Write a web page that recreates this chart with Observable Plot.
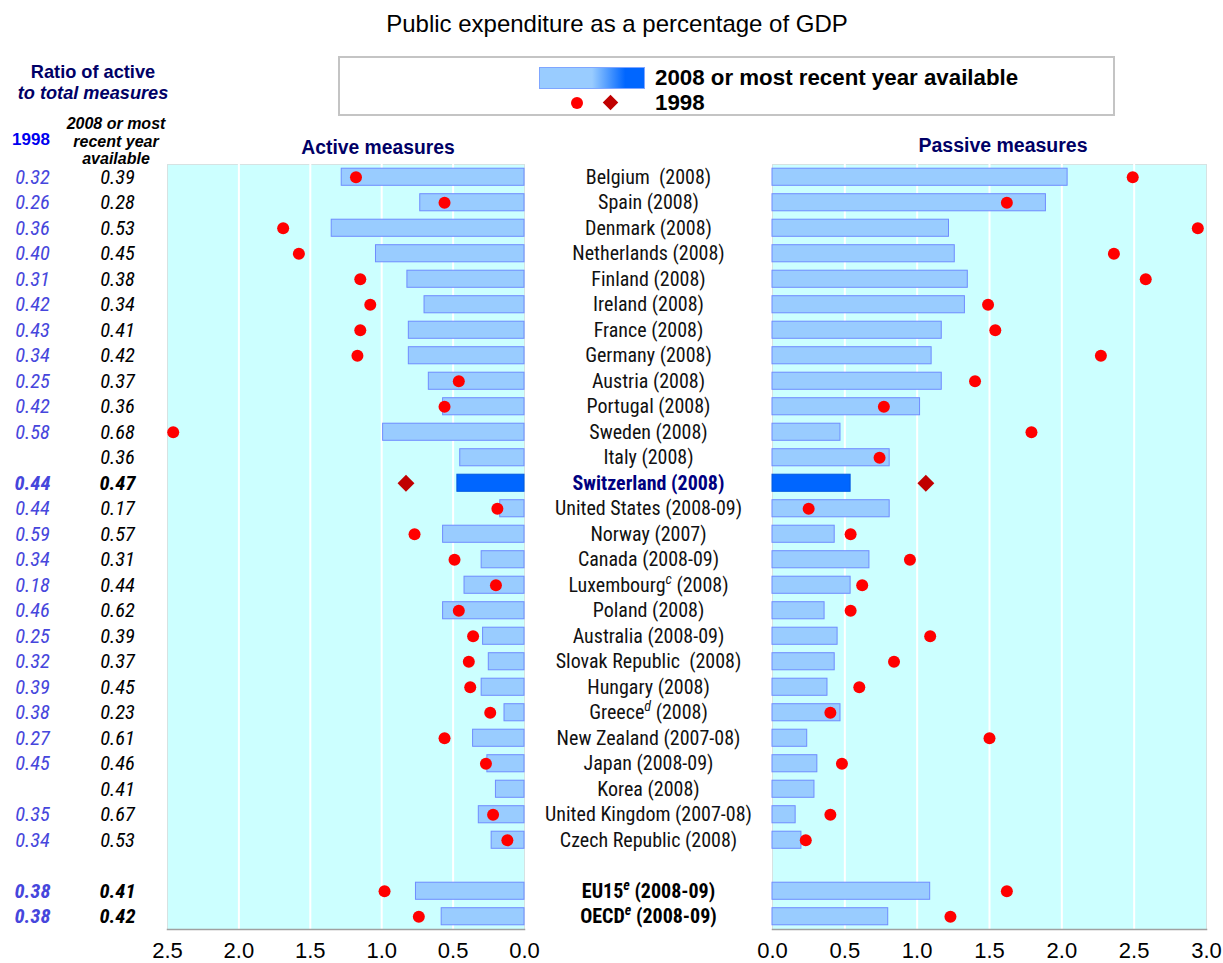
<!DOCTYPE html>
<html>
<head>
<meta charset="utf-8">
<script src="https://cdn.jsdelivr.net/npm/d3@7"></script>
<script src="https://cdn.jsdelivr.net/npm/@observablehq/plot@0.6"></script>
<style>
  html, body { margin: 0; padding: 0; background: #fff; }
  #wrap { position: relative; width: 1223px; height: 963px; overflow: hidden; font-family: "Liberation Sans", Arial, sans-serif; }
  #wrap svg { position: absolute; top: 0; background: transparent !important; }
  .lbl { position: absolute; transform: translate(-50%, -50%); white-space: nowrap; text-align: center; z-index: 5; }
  .lft { position: absolute; transform: translate(0, -50%); white-space: nowrap; z-index: 5; }
</style>
</head>
<body>
<div id="wrap"></div>
<script>
// ---- data ----
const labels = ["Belgium  (2008)","Spain (2008)","Denmark (2008)","Netherlands (2008)","Finland (2008)","Ireland (2008)","France (2008)","Germany (2008)","Austria (2008)","Portugal (2008)","Sweden (2008)","Italy (2008)","Switzerland (2008)","United States (2008-09)","Norway (2007)","Canada (2008-09)","Luxembourg^c (2008)","Poland (2008)","Australia (2008-09)","Slovak Republic  (2008)","Hungary (2008)","Greece^d (2008)","New Zealand (2007-08)","Japan (2008-09)","Korea (2008)","United Kingdom (2007-08)","Czech Republic (2008)","EU15^e (2008-09)","OECD^e (2008-09)"];
const active2008 = [1.28,0.73,1.35,1.04,0.82,0.70,0.81,0.81,0.67,0.57,0.99,0.45,0.47,0.17,0.57,0.30,0.42,0.57,0.29,0.25,0.30,0.14,0.36,0.26,0.20,0.32,0.23,0.76,0.58];
const active1998 = [1.18,0.56,1.69,1.58,1.15,1.08,1.15,1.17,0.46,0.56,2.46,null,0.83,0.19,0.77,0.49,0.20,0.46,0.36,0.39,0.38,0.24,0.56,0.27,null,0.22,0.12,0.98,0.74];
const passive2008 = [2.04,1.89,1.22,1.26,1.35,1.33,1.17,1.10,1.17,1.02,0.47,0.81,0.54,0.81,0.43,0.67,0.54,0.36,0.45,0.43,0.38,0.47,0.24,0.31,0.29,0.16,0.20,1.09,0.80];
const passive1998 = [2.49,1.62,2.94,2.36,2.58,1.49,1.54,2.27,1.40,0.77,1.79,0.74,1.06,0.25,0.54,0.95,0.62,0.54,1.09,0.84,0.60,0.40,1.50,0.48,null,0.40,0.23,1.62,1.23];
const ratio1998 = [0.32,0.26,0.36,0.40,0.31,0.42,0.43,0.34,0.25,0.42,0.58,null,0.44,0.44,0.59,0.34,0.18,0.46,0.25,0.32,0.39,0.38,0.27,0.45,null,0.35,0.34,0.38,0.38];
const ratio2008 = [0.39,0.28,0.53,0.45,0.38,0.34,0.41,0.42,0.37,0.36,0.68,0.36,0.47,0.17,0.57,0.31,0.44,0.62,0.39,0.37,0.45,0.23,0.61,0.46,0.41,0.67,0.53,0.41,0.42];
const highlight = "Switzerland (2008)";
const aggregates = ["EU15^e (2008-09)","OECD^e (2008-09)"];
const leftTicks = [0, 0.5, 1, 1.5, 2, 2.5];
const rightTicks = [0, 0.5, 1, 1.5, 2, 2.5, 3];

// ---- table ----
const rows = labels.map((label, i) => ({label, a08: active2008[i], a98: active1998[i], p08: passive2008[i], p98: passive1998[i], r98: ratio1998[i], r08: ratio2008[i]}));
const yDomain = [...labels.slice(0, 27), " ", ...labels.slice(27)];
const isHi = d => d.label === highlight;
const isAgg = d => aggregates.includes(d.label);
const plain = rows.filter(d => !isHi(d) && !isAgg(d));
const strong = rows.filter(d => isHi(d) || isAgg(d));

const NARROW = "'Liberation Sans Narrow', 'Arial Narrow', 'Roboto Condensed', 'Liberation Sans', Arial, sans-serif";
const BAR = "#99ccff", BAR_STROKE = "#6f8cff", HI = "#0066ff", DOT = "#ff0000", DIA = "#c00000";
const yOpt = {domain: yDomain, axis: null, paddingInner: 0.33, paddingOuter: 0.165, round: false};
const baseStyle = {fontFamily: "'Liberation Sans', Arial, sans-serif", fontSize: "22px", color: "#000", background: "transparent", overflow: "visible"};

function supers(svg) {
  d3.select(svg).selectAll("text").each(function () {
    const t = this.textContent;
    if (!t.includes("^")) return;
    const parts = t.split(/\^(\w)/);
    this.textContent = "";
    const sel = d3.select(this);
    let shift = false;
    parts.forEach((p, i) => {
      if (i % 2 === 1) {
        sel.append("tspan").attr("dy", -8).attr("font-size", "70%").attr("font-style", "italic").text(p);
        shift = true;
      } else if (p.length) {
        const ts = sel.append("tspan").text(p);
        if (shift) { ts.attr("dy", 8); shift = false; }
      }
    });
  });
}

// ---- left (active) panel ----
const left = Plot.plot({
  width: 524, height: 963,
  marginLeft: 167, marginRight: 0, marginTop: 164, marginBottom: 34,
  x: {domain: [0, 2.5], reverse: true, ticks: leftTicks, tickFormat: d => d.toFixed(1), tickSize: 0, tickPadding: 13, label: null},
  y: yOpt,
  style: baseStyle,
  marks: [
    Plot.frame({fill: "#ccffff", stroke: "#d6e2e2"}),
    Plot.ruleX(leftTicks.filter(t => t > 0 && t < 2.5), {stroke: "#ffffff", strokeWidth: 2}),
    Plot.frame({anchor: "bottom", stroke: "#a0a0a0", strokeWidth: 1.5}),
    Plot.barX(rows.filter(d => !isHi(d)), {x: "a08", y: "label", fill: BAR, stroke: BAR_STROKE, strokeWidth: 1}),
    Plot.barX(rows.filter(isHi), {x: "a08", y: "label", fill: HI, stroke: "#0058e0", strokeWidth: 1}),
    Plot.dot(rows.filter(d => d.a98 != null && !isHi(d)), {x: "a98", y: "label", r: 6, fill: DOT}),
    Plot.dot(rows.filter(isHi), {x: "a98", y: "label", r: 7.6, symbol: "diamond2", fill: DIA}),
    // ratio columns
    Plot.text(plain.filter(d => d.r98 != null), {y: "label", text: d => d.r98.toFixed(2), frameAnchor: "left", dx: -135, textAnchor: "middle", fill: "#4646dc", fontFamily: NARROW, fontStyle: "italic", fontSize: 20.5}),
    Plot.text(strong, {y: "label", text: d => d.r98.toFixed(2), frameAnchor: "left", dx: -135, textAnchor: "middle", fill: "#4646dc", fontFamily: NARROW, fontStyle: "italic", fontWeight: "bold", fontSize: 20.5}),
    Plot.text(plain, {y: "label", text: d => d.r08.toFixed(2), frameAnchor: "left", dx: -50, textAnchor: "middle", fill: "#000", fontFamily: NARROW, fontStyle: "italic", fontSize: 20.5}),
    Plot.text(strong, {y: "label", text: d => d.r08.toFixed(2), frameAnchor: "left", dx: -50, textAnchor: "middle", fill: "#000", fontFamily: NARROW, fontStyle: "italic", fontWeight: "bold", fontSize: 20.5})
  ]
});
left.style.left = "0px";

// ---- right (passive) panel ----
const right = Plot.plot({
  width: 699, height: 963,
  marginLeft: 248, marginRight: 17, marginTop: 164, marginBottom: 34,
  x: {domain: [0, 3], ticks: rightTicks, tickFormat: d => d.toFixed(1), tickSize: 0, tickPadding: 13, label: null},
  y: yOpt,
  style: baseStyle,
  marks: [
    Plot.frame({fill: "#ccffff", stroke: "#d6e2e2"}),
    Plot.ruleX(rightTicks.filter(t => t > 0 && t < 3), {stroke: "#ffffff", strokeWidth: 2}),
    Plot.frame({anchor: "bottom", stroke: "#a0a0a0", strokeWidth: 1.5}),
    Plot.barX(rows.filter(d => !isHi(d)), {x: "p08", y: "label", fill: BAR, stroke: BAR_STROKE, strokeWidth: 1}),
    Plot.barX(rows.filter(isHi), {x: "p08", y: "label", fill: HI, stroke: "#0058e0", strokeWidth: 1}),
    Plot.dot(rows.filter(d => d.p98 != null && !isHi(d)), {x: "p98", y: "label", r: 6, fill: DOT}),
    Plot.dot(rows.filter(isHi), {x: "p98", y: "label", r: 7.6, symbol: "diamond2", fill: DIA}),
    // country labels
    Plot.text(plain, {y: "label", text: "label", frameAnchor: "left", dx: -124, textAnchor: "middle", fill: "#111", fontFamily: NARROW, fontSize: 20}),
    Plot.text(rows.filter(isHi), {y: "label", text: "label", frameAnchor: "left", dx: -124, textAnchor: "middle", fill: "#000080", fontFamily: NARROW, fontWeight: "bold", fontSize: 20}),
    Plot.text(rows.filter(isAgg), {y: "label", text: "label", frameAnchor: "left", dx: -124, textAnchor: "middle", fill: "#000", fontFamily: NARROW, fontWeight: "bold", fontSize: 20})
  ]
});
right.style.left = "524px";
supers(right);

const wrap = document.getElementById("wrap");
wrap.appendChild(left);
wrap.appendChild(right);

// ---- titles, headers and legend (HTML) ----
const html = `
<div class="lbl" style="left:617px;top:24px;font-size:24px;color:#000;">Public expenditure as a percentage of GDP</div>
<div style="position:absolute;left:338px;top:56px;width:773px;height:56px;border:2px solid #c4c4c4;background:#fff;z-index:4;"></div>
<div style="position:absolute;left:539px;top:67px;width:104px;height:20px;border:1px solid #7fa6ff;background:linear-gradient(to right,#99ccff 0%,#99ccff 50%,#0066ff 82%,#0066ff 100%);z-index:5;"></div>
<div style="position:absolute;left:571px;top:97px;width:12px;height:12px;border-radius:50%;background:${DOT};z-index:5;"></div>
<div style="position:absolute;left:605px;top:97px;width:11px;height:11px;transform:rotate(45deg);background:${DIA};z-index:5;"></div>
<div class="lft" style="left:655px;top:78px;font-size:22.3px;font-weight:bold;">2008 or most recent year available</div>
<div class="lft" style="left:655px;top:103px;font-size:22.3px;font-weight:bold;">1998</div>
<div class="lbl" style="left:93px;top:72px;font-size:18.2px;font-weight:bold;color:#000066;">Ratio of active</div>
<div class="lbl" style="left:93px;top:93px;font-size:18.2px;font-weight:bold;font-style:italic;color:#000066;">to total measures</div>
<div class="lbl" style="left:31px;top:140px;font-size:17px;font-weight:bold;color:#0000ee;">1998</div>
<div class="lbl" style="left:116px;top:141px;font-size:16px;font-weight:bold;font-style:italic;line-height:17.5px;color:#000;">2008 or most<br>recent year<br>available</div>
<div class="lbl" style="left:378px;top:148px;font-size:19.3px;font-weight:bold;color:#000066;">Active measures</div>
<div class="lbl" style="left:1003px;top:145px;font-size:19.5px;font-weight:bold;color:#000066;">Passive measures</div>
`;
wrap.insertAdjacentHTML("beforeend", html);
</script>
</body>
</html>
